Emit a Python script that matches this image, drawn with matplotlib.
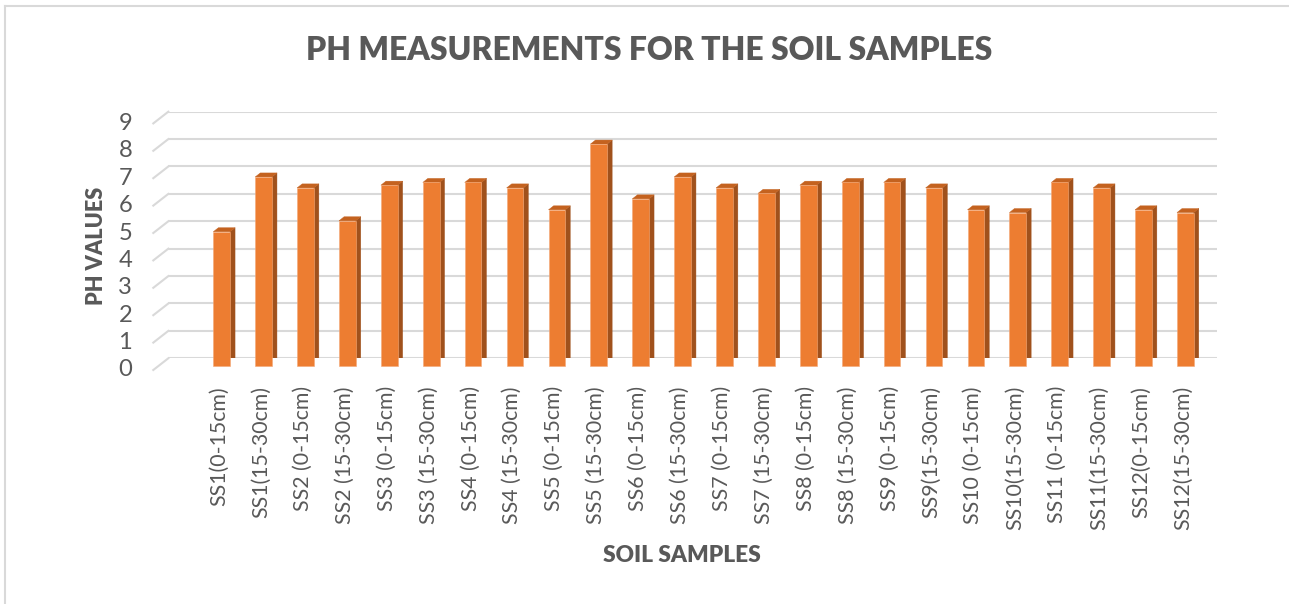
import matplotlib
matplotlib.use("Agg")
import matplotlib.pyplot as plt
from matplotlib.transforms import ScaledTranslation
from matplotlib.collections import PolyCollection
from matplotlib.lines import Line2D

# ---------------- data ----------------
categories = ["SS1(0-15cm)", "SS1(15-30cm)", "SS2 (0-15cm)", "SS2 (15-30cm)",
              "SS3 (0-15cm)", "SS3 (15-30cm)", "SS4 (0-15cm)", "SS4 (15-30cm)",
              "SS5 (0-15cm)", "SS5 (15-30cm)", "SS6 (0-15cm)", "SS6 (15-30cm)",
              "SS7 (0-15cm)", "SS7 (15-30cm)", "SS8 (0-15cm)", "SS8 (15-30cm)",
              "SS9 (0-15cm)", "SS9(15-30cm)", "SS10 (0-15cm)", "SS10(15-30cm)",
              "SS11 (0-15cm)", "SS11(15-30cm)", "SS12(0-15cm)", "SS12(15-30cm)"]
ph_values = [4.9, 6.9, 6.5, 5.3, 6.6, 6.7, 6.7, 6.5, 5.7, 8.1, 6.1, 6.9,
             6.5, 6.3, 6.6, 6.7, 6.7, 6.5, 5.7, 5.6, 6.7, 6.5, 5.7, 5.6]
y_ticks = [0, 1, 2, 3, 4, 5, 6, 7, 8, 9]
title = "PH MEASUREMENTS FOR THE SOIL SAMPLES"
x_title = "SOIL SAMPLES"
y_title = "PH VALUES"

# ---------------- style ----------------
W, H = 1289, 604
FONT = "Lato"
TXT = "#595959"
GRID = "#D9D9D9"
FRONT = "#ED7D31"
SIDE = "#A0511C"
TOP = "#C4621F"

fig = plt.figure(figsize=(W / 100, H / 100), dpi=100)
fig.patch.set_facecolor("white")

# back wall frame (pixels)
wall_l, wall_r = 168.3, 1217.0
wall_y0, unit_y = 358.3, 27.4
slot = 41.9
first_center_wall = 231.6
x0 = (wall_l - first_center_wall) / slot
x1 = (wall_r - first_center_wall) / slot
ax = fig.add_axes([wall_l / W, (H - wall_y0) / H, (wall_r - wall_l) / W,
                   9 * unit_y / H])
ax.set_xlim(x0, x1)
ax.set_ylim(0, 9)
ax.axis("off")

def px(dx, dy):
    return ScaledTranslation(dx / 100, dy / 100, fig.dpi_scale_trans)

# gridlines on back wall
ax.hlines(y_ticks, x0, x1, colors=GRID, lw=1.5, zorder=1)
# diagonal floor/left-wall edges
ddx, ddy = -15.0 / slot, -11.7 / unit_y
for k in y_ticks:
    ax.add_line(Line2D([x0 + ddx, x0], [k + ddy, k], color=GRID, lw=1.5,
                       clip_on=False, zorder=1))

# bars (front plane offset from wall)
bar_off = px(-9.9, -7.7)
bt = ax.transData + bar_off
w = 16.7 / slot
dep_x, dep_y = 5.0 / slot, 4.0 / unit_y
xs = list(range(len(ph_values)))
sides, tops = [], []
for x, v in zip(xs, ph_values):
    r = x + w / 2
    l = x - w / 2
    sides.append([(r, 0), (r + dep_x, dep_y), (r + dep_x, v + dep_y), (r, v)])
    tops.append([(l, v), (r, v), (r + dep_x, v + dep_y), (l + dep_x, v + dep_y)])
ax.add_collection(PolyCollection(sides, facecolors=SIDE, edgecolors=SIDE,
                                 linewidths=0.3, transform=bt, zorder=3))
ax.add_collection(PolyCollection(tops, facecolors=TOP, edgecolors=TOP,
                                 linewidths=0.3, transform=bt, zorder=3))
ax.bar(xs, ph_values, width=w, color=FRONT, edgecolor="#F4A877", linewidth=0.4,
       transform=bt, zorder=4, clip_on=False)

# ---------- text ----------
def fit(t, target_w):
    fig.canvas.draw()
    r = fig.canvas.get_renderer()
    bb = t.get_window_extent(r)
    size = max(bb.width, bb.height)
    t.set_fontsize(t.get_fontsize() * target_w / size)

# y tick labels at front edge
ylabels = []
for k in y_ticks:
    t = ax.text(x0 + ddx, k + ddy, str(k), ha="right", va="center",
                fontsize=14, color=TXT, family=FONT,
                transform=ax.transData + px(-21, 0), clip_on=False)
    ylabels.append(t)

# x tick labels
xlabels = []
for x, lab in zip(xs, categories):
    t = ax.text(x, 0, lab, rotation=90, ha="center", va="top", fontsize=11,
                color=TXT, family=FONT,
                transform=ax.transData + px(-12.6, -(386 - wall_y0)),
                clip_on=False)
    xlabels.append(t)
fit(xlabels[1], 131.7)
fs = xlabels[1].get_fontsize()
for t in xlabels:
    t.set_fontsize(fs)
for t in ylabels:
    t.set_fontsize(fs * 1.12)

tt = fig.text(649 / W, 1 - 51 / H, title, ha="center", va="center",
              fontsize=20, fontweight="heavy", color=TXT, family=FONT)
fit(tt, 687)
xt = fig.text(682 / W, 1 - 556 / H, x_title, ha="center", va="center",
              fontsize=12, fontweight="heavy", color=TXT, family=FONT)
fit(xt, 157)
yt = fig.text(97 / W, 1 - 246 / H, y_title, ha="center", va="center",
              rotation=90, fontsize=12, fontweight="heavy", color=TXT, family=FONT)
fit(yt, 118)

# chart border (top and left visible)
fig.add_artist(Line2D([5 / W, 1], [1 - 6 / H, 1 - 6 / H], color=GRID, lw=1.5,
                      transform=fig.transFigure))
fig.add_artist(Line2D([5 / W, 5 / W], [0, 1 - 6 / H], color=GRID, lw=1.5,
                      transform=fig.transFigure))

fig.savefig("out.png", dpi=100, facecolor="white")
